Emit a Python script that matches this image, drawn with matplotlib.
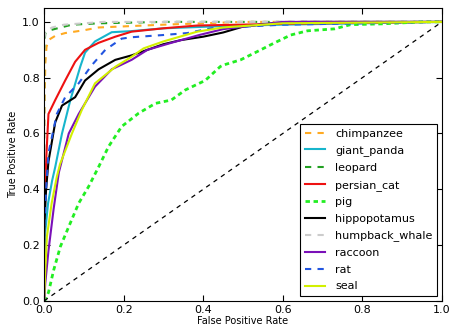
import matplotlib
matplotlib.use("Agg")
import matplotlib.pyplot as plt

# ROC curves (fpr, tpr)
classes = ["chimpanzee", "giant_panda", "leopard", "persian_cat", "pig",
           "hippopotamus", "humpback_whale", "raccoon", "rat", "seal"]
colors = ["#ffaa22", "#17b5cc", "#22a022", "#ee1111", "#22ee22",
          "#000000", "#cccccc", "#7a10b8", "#2255e0", "#d2f000"]
styles = ["--", "-", "--", "-", "--", "-", "--", "-", "--", "-"]

chimp_fpr = [0.0, 0.0, 0.003, 0.006, 0.011, 0.028, 0.053, 0.10, 0.137, 0.30, 0.5, 1.0]
chimp_tpr = [0.0, 0.60, 0.85, 0.91, 0.935, 0.95, 0.96, 0.97, 0.98, 0.99, 1.0, 1.0]

panda_fpr = [0.0, 0.0, 0.003, 0.01, 0.02, 0.028, 0.045, 0.066, 0.091, 0.103, 0.128, 0.17,
             0.22, 0.30, 0.45, 0.6, 0.8, 1.0]
panda_tpr = [0.0, 0.10, 0.25, 0.35, 0.43, 0.48, 0.60, 0.72, 0.84, 0.89, 0.93, 0.963,
             0.967, 0.977, 0.985, 0.99, 0.995, 1.0]

leopard_fpr = [0.0, 0.0, 0.003, 0.015, 0.028, 0.07, 0.14, 0.3, 1.0]
leopard_tpr = [0.0, 0.90, 0.96, 0.97, 0.975, 0.99, 0.995, 1.0, 1.0]

cat_fpr = [0.0, 0.0, 0.005, 0.011, 0.028, 0.053, 0.078, 0.103, 0.137, 0.179, 0.22,
           0.30, 0.385, 0.6, 0.8, 1.0]
cat_tpr = [0.0, 0.30, 0.50, 0.67, 0.72, 0.79, 0.857, 0.90, 0.925, 0.947, 0.965,
           0.977, 0.987, 0.993, 0.997, 1.0]

pig_fpr = [0.0, 0.003, 0.011, 0.024, 0.041, 0.062, 0.087, 0.112, 0.137, 0.162, 0.195,
           0.238, 0.28, 0.32, 0.355, 0.405, 0.443, 0.45, 0.494, 0.535, 0.578, 0.62,
           0.662, 0.73, 0.77, 0.85, 0.95, 1.0]
pig_tpr = [0.0, 0.004, 0.03, 0.11, 0.195, 0.266, 0.35, 0.41, 0.48, 0.553, 0.625,
           0.673, 0.708, 0.72, 0.756, 0.79, 0.84, 0.845, 0.864, 0.893, 0.924, 0.953,
           0.968, 0.975, 0.99, 0.993, 1.0, 1.0]

hippo_fpr = [0.0, 0.0, 0.005, 0.011, 0.028, 0.045, 0.078, 0.103, 0.137, 0.179, 0.22,
             0.26, 0.30, 0.345, 0.40, 0.45, 0.50, 0.575, 0.65, 1.0]
hippo_tpr = [0.0, 0.25, 0.40, 0.50, 0.64, 0.70, 0.73, 0.79, 0.83, 0.864, 0.88,
             0.90, 0.92, 0.935, 0.947, 0.962, 0.983, 0.995, 1.0, 1.0]

whale_fpr = [0.0, 0.0, 0.003, 0.02, 0.05, 0.15, 1.0]
whale_tpr = [0.0, 0.93, 0.965, 0.98, 0.99, 1.0, 1.0]

raccoon_fpr = [0.0, 0.003, 0.011, 0.024, 0.037, 0.062, 0.087, 0.128, 0.17, 0.22,
               0.26, 0.32, 0.39, 0.45, 0.6, 1.0]
raccoon_tpr = [0.0, 0.064, 0.18, 0.33, 0.46, 0.60, 0.67, 0.768, 0.83, 0.864,
               0.90, 0.925, 0.953, 0.974, 1.0, 1.0]

rat_fpr = [0.0, 0.0, 0.005, 0.011, 0.032, 0.053, 0.087, 0.12, 0.154, 0.195, 0.22,
           0.30, 0.36, 0.42, 0.6, 1.0]
rat_tpr = [0.0, 0.25, 0.40, 0.53, 0.67, 0.73, 0.78, 0.845, 0.90, 0.94, 0.945,
           0.953, 0.96, 0.977, 0.99, 1.0]

seal_fpr = [0.0, 0.003, 0.007, 0.019, 0.032, 0.04, 0.07, 0.095, 0.128, 0.18, 0.22,
            0.25, 0.30, 0.385, 0.45, 0.6, 1.0]
seal_tpr = [0.0, 0.11, 0.23, 0.35, 0.445, 0.49, 0.60, 0.685, 0.78, 0.84, 0.875,
            0.905, 0.93, 0.965, 0.98, 0.995, 1.0]

fprs = [chimp_fpr, panda_fpr, leopard_fpr, cat_fpr, pig_fpr,
        hippo_fpr, whale_fpr, raccoon_fpr, rat_fpr, seal_fpr]
tprs = [chimp_tpr, panda_tpr, leopard_tpr, cat_tpr, pig_tpr,
        hippo_tpr, whale_tpr, raccoon_tpr, rat_tpr, seal_tpr]

fig = plt.figure(figsize=(4.5, 3.31), dpi=100)
ax = fig.add_axes([0.098, 0.091, 0.884, 0.885])

for name, c, ls, fx, ty in zip(classes, colors, styles, fprs, tprs):
    if name == "pig":
        ax.plot(fx, ty, color=c, linestyle="--", dashes=(1.6, 1.3), linewidth=2.0,
                label=name)
    elif ls == "--":
        ax.plot(fx, ty, color=c, linestyle="--", dashes=(3, 3), linewidth=1.5,
                label=name)
    else:
        ax.plot(fx, ty, color=c, linestyle="-", linewidth=1.5, label=name)

# chance line
ax.plot([0, 1], [0, 1], color="black", linestyle="--", dashes=(3.6, 3.6), linewidth=0.9)

ax.set_xlim(0, 1.0)
ax.set_ylim(0, 1.05)
ax.set_xticks([0.0, 0.2, 0.4, 0.6, 0.8, 1.0])
ax.set_yticks([0.0, 0.2, 0.4, 0.6, 0.8, 1.0])
ax.tick_params(direction="in", top=True, right=True, labelsize=8, length=4, pad=3)
ax.set_xlabel("False Positive Rate", fontsize=7, labelpad=1)
ax.set_ylabel("True Positive Rate", fontsize=7, labelpad=3)

leg = ax.legend(loc="lower right", fontsize=8, handlelength=1.8, fancybox=False,
                framealpha=1, borderpad=0.45, labelspacing=0.6, handletextpad=0.9,
                borderaxespad=0.4)
leg.get_frame().set_edgecolor("black")
leg.get_frame().set_linewidth(0.8)

fig.savefig("out.png", dpi=100)
